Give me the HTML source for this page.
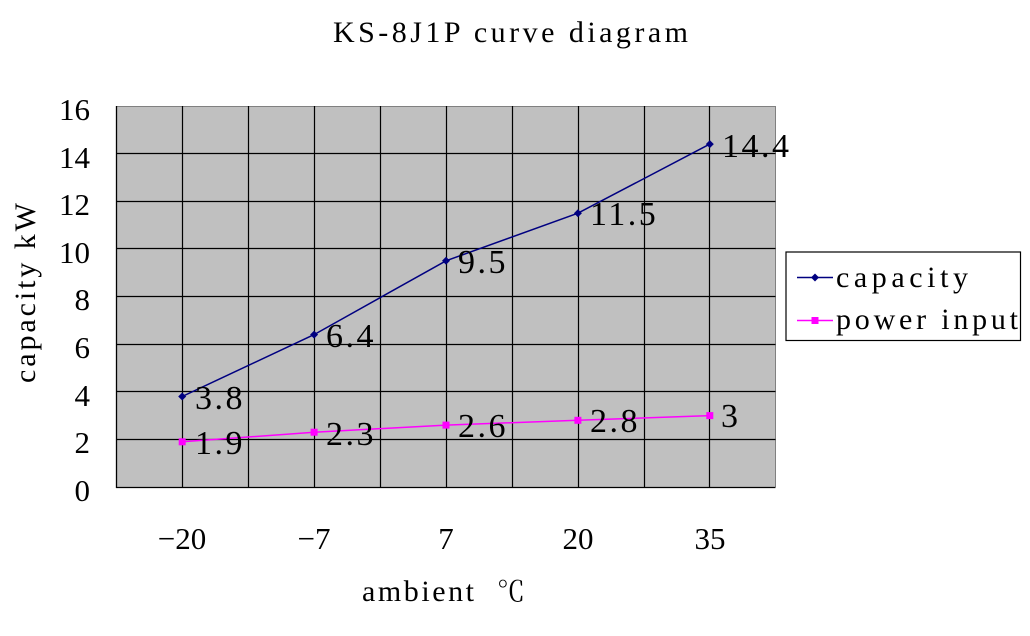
<!DOCTYPE html>
<html>
<head>
<meta charset="utf-8">
<style>
  html,body{margin:0;padding:0;background:#fff;}
  svg{display:block;}
</style>
</head>
<body>
<svg width="1030" height="636" viewBox="0 0 1030 636" xmlns="http://www.w3.org/2000/svg">
  <rect x="0" y="0" width="1030" height="636" fill="#ffffff"/>

  <!-- Title -->
  <text x="333" y="42" font-family="'Liberation Serif', serif" font-size="30" fill="#000" textLength="355" lengthAdjust="spacing">KS-8J1P curve diagram</text>

  <!-- Plot area -->
  <rect x="116.5" y="106" width="659" height="381" fill="#c0c0c0"/>
  <line x1="116.5" y1="106.5" x2="775.5" y2="106.5" stroke="#808080" stroke-width="1"/>
  <line x1="775.5" y1="106" x2="775.5" y2="487" stroke="#808080" stroke-width="1"/>

  <!-- horizontal gridlines -->
  <g stroke="#000" stroke-width="1.2">
    <line x1="116.5" y1="439.5" x2="775.5" y2="439.5"/>
    <line x1="116.5" y1="391.5" x2="775.5" y2="391.5"/>
    <line x1="116.5" y1="344.5" x2="775.5" y2="344.5"/>
    <line x1="116.5" y1="296.5" x2="775.5" y2="296.5"/>
    <line x1="116.5" y1="248.5" x2="775.5" y2="248.5"/>
    <line x1="116.5" y1="201.5" x2="775.5" y2="201.5"/>
    <line x1="116.5" y1="153.5" x2="775.5" y2="153.5"/>
  </g>
  <!-- vertical gridlines -->
  <g stroke="#000" stroke-width="1.2">
    <line x1="182.5" y1="106" x2="182.5" y2="487"/>
    <line x1="248.5" y1="106" x2="248.5" y2="487"/>
    <line x1="314.5" y1="106" x2="314.5" y2="487"/>
    <line x1="380.5" y1="106" x2="380.5" y2="487"/>
    <line x1="446.5" y1="106" x2="446.5" y2="487"/>
    <line x1="512.5" y1="106" x2="512.5" y2="487"/>
    <line x1="578.5" y1="106" x2="578.5" y2="487"/>
    <line x1="644.5" y1="106" x2="644.5" y2="487"/>
    <line x1="709.5" y1="106" x2="709.5" y2="487"/>
  </g>
  <!-- axes -->
  <line x1="116.5" y1="106" x2="116.5" y2="488" stroke="#000" stroke-width="1.3"/>
  <line x1="116" y1="487.5" x2="775.5" y2="487.5" stroke="#000" stroke-width="1.3"/>

  <!-- Y tick labels -->
  <g font-family="'Liberation Serif', serif" font-size="31" fill="#000" text-anchor="end">
    <text x="90" y="120">16</text>
    <text x="90" y="168">14</text>
    <text x="90" y="215">12</text>
    <text x="90" y="263">10</text>
    <text x="90" y="310">8</text>
    <text x="90" y="358">6</text>
    <text x="90" y="406">4</text>
    <text x="90" y="453">2</text>
    <text x="90" y="501">0</text>
  </g>

  <!-- X tick labels -->
  <g font-family="'Liberation Serif', serif" font-size="31" fill="#000" text-anchor="middle">
    <text x="182" y="549">−20</text>
    <text x="314" y="549">−7</text>
    <text x="446" y="549">7</text>
    <text x="578" y="549">20</text>
    <text x="710" y="549">35</text>
  </g>

  <!-- Axis titles -->
  <text x="362" y="601" font-family="'Liberation Serif', serif" font-size="30" fill="#000" textLength="112" lengthAdjust="spacing">ambient</text>
  <text x="497" y="601" font-family="'Liberation Serif', 'Noto Serif CJK SC', serif" font-size="28" fill="#000">℃</text>

  <text transform="translate(35,293) rotate(-90)" text-anchor="middle" font-family="'Liberation Serif', serif" font-size="30" fill="#000" textLength="180" lengthAdjust="spacing">capacity kW</text>

  <!-- capacity series -->
  <polyline points="182.2,396.5 314.1,334.6 446,260.8 577.9,213.2 709.8,144.1" fill="none" stroke="#000080" stroke-width="1.5"/>
  <g fill="#000080">
    <polygon points="182.2,392.5 186.2,396.5 182.2,400.5 178.2,396.5"/>
    <polygon points="314.1,330.6 318.1,334.6 314.1,338.6 310.1,334.6"/>
    <polygon points="446,256.8 450,260.8 446,264.8 442,260.8"/>
    <polygon points="577.9,209.2 581.9,213.2 577.9,217.2 573.9,213.2"/>
    <polygon points="709.8,140.1 713.8,144.1 709.8,148.1 705.8,144.1"/>
  </g>

  <!-- power input series -->
  <polyline points="182.2,441.8 314.1,432.2 446,425.1 577.9,420.3 709.8,415.6" fill="none" stroke="#ff00ff" stroke-width="1.5"/>
  <g fill="#ff00ff">
    <rect x="178.7" y="438.3" width="7" height="7"/>
    <rect x="310.6" y="428.7" width="7" height="7"/>
    <rect x="442.5" y="421.6" width="7" height="7"/>
    <rect x="574.4" y="416.8" width="7" height="7"/>
    <rect x="706.3" y="412.1" width="7" height="7"/>
  </g>

  <!-- data labels -->
  <g font-family="'Liberation Serif', serif" font-size="34" fill="#000" letter-spacing="2.5">
    <text x="195" y="409">3.8</text>
    <text x="326" y="347">6.4</text>
    <text x="458" y="273">9.5</text>
    <text x="590" y="225">11.5</text>
    <text x="722" y="157">14.4</text>

    <text x="195" y="454">1.9</text>
    <text x="326" y="445">2.3</text>
    <text x="458" y="437">2.6</text>
    <text x="590" y="432">2.8</text>
    <text x="721" y="427">3</text>
  </g>

  <!-- Legend -->
  <rect x="786" y="252" width="234.5" height="88.5" fill="#ffffff" stroke="#000" stroke-width="1.2"/>
  <line x1="797" y1="277.5" x2="833" y2="277.5" stroke="#000080" stroke-width="1.5"/>
  <polygon points="815,273.5 819,277.5 815,281.5 811,277.5" fill="#000080"/>
  <line x1="797" y1="320.5" x2="833" y2="320.5" stroke="#ff00ff" stroke-width="1.5"/>
  <rect x="811.5" y="317" width="7" height="7" fill="#ff00ff"/>
  <text x="836" y="287" font-family="'Liberation Serif', serif" font-size="30" fill="#000" textLength="132" lengthAdjust="spacing">capacity</text>
  <text x="836" y="329" font-family="'Liberation Serif', serif" font-size="30" fill="#000" textLength="182" lengthAdjust="spacing">power input</text>
</svg>
</body>
</html>
